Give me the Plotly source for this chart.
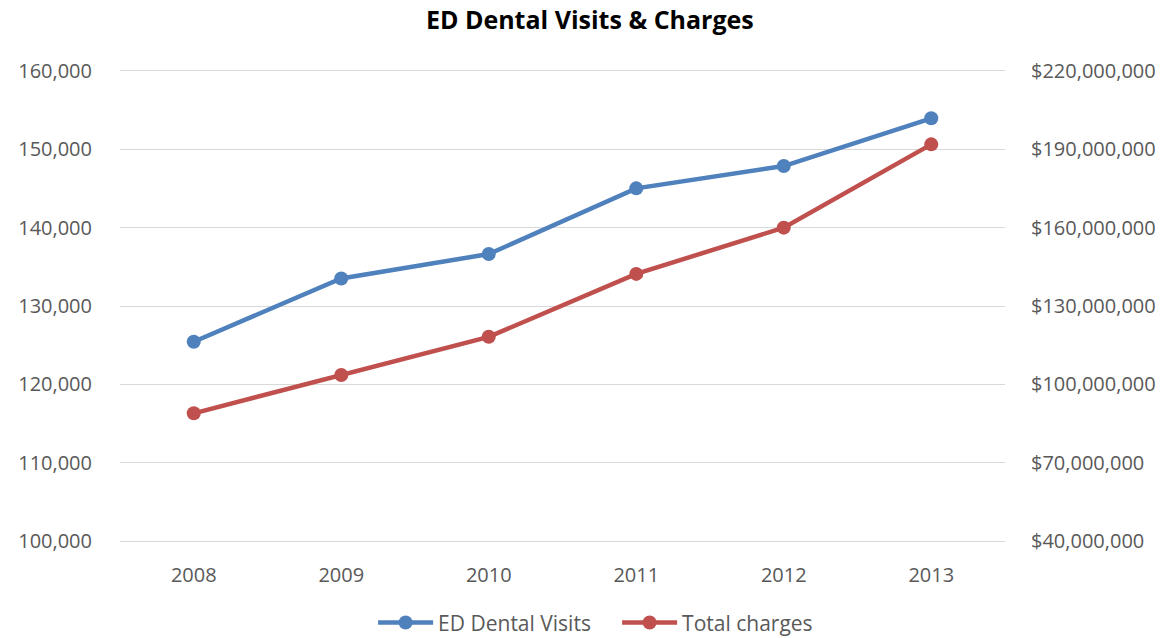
import plotly.graph_objects as go

years = ["2008", "2009", "2010", "2011", "2012", "2013"]
dental_visits = [125430, 133520, 136630, 145020, 147870, 153960]
total_charges = [88900000, 103600000, 118200000, 142300000, 160000000, 191900000]

BLUE = "#4F81BD"
RED = "#C0504D"
TEXT = "#595959"
GRID = "#D9D9D9"
FONT = "Open Sans, Liberation Sans, sans-serif"

fig = go.Figure()
fig.add_trace(go.Scatter(
    x=years, y=dental_visits, name="ED Dental Visits",
    mode="lines+markers",
    line=dict(color=BLUE, width=4.5),
    marker=dict(color=BLUE, size=14),
    yaxis="y",
))
fig.add_trace(go.Scatter(
    x=years, y=total_charges, name="Total charges",
    mode="lines+markers",
    line=dict(color=RED, width=4.5),
    marker=dict(color=RED, size=14),
    yaxis="y2",
))

fig.update_layout(
    width=1168, height=638,
    margin=dict(l=120, r=163, t=71, b=97, autoexpand=False),
    paper_bgcolor="white", plot_bgcolor="white",
    font=dict(family=FONT, size=20, color=TEXT),
    title=dict(text="<b>ED Dental Visits & Charges</b>", x=0.505, xanchor="center",
               y=0.968, yanchor="middle",
               font=dict(family=FONT, size=25, color="#000000")),
    # top and bottom frame lines stand in for the gridlines at 160,000 and 100,000
    xaxis=dict(type="category", range=[-0.5, 5.5], showgrid=False,
               showline=True, linecolor=GRID, linewidth=1.3, mirror=True,
               ticks="", zeroline=False,
               ticklabelstandoff=16,
               tickfont=dict(size=20, color=TEXT)),
    yaxis=dict(range=[100000, 160000], dtick=10000, tick0=100000,
               tickformat=",",
               showgrid=True, gridcolor=GRID, gridwidth=1.3,
               zeroline=False, showline=False, ticks="",
               ticklabelstandoff=27,
               tickfont=dict(size=20, color=TEXT)),
    yaxis2=dict(range=[40000000, 220000000], dtick=30000000,
                tick0=40000000, tickformat="$,.0f",
                overlaying="y", side="right", showgrid=False,
                zeroline=False, showline=False, ticks="",
                ticklabelstandoff=25,
                tickfont=dict(size=20, color=TEXT)),
    legend=dict(orientation="h", x=0.286, xanchor="left", y=-0.174, yanchor="middle",
                font=dict(size=21, color=TEXT), itemwidth=55,
                entrywidth=174, entrywidthmode="pixels",
                traceorder="normal"),
    showlegend=True,
)

fig.write_html("out.html")
